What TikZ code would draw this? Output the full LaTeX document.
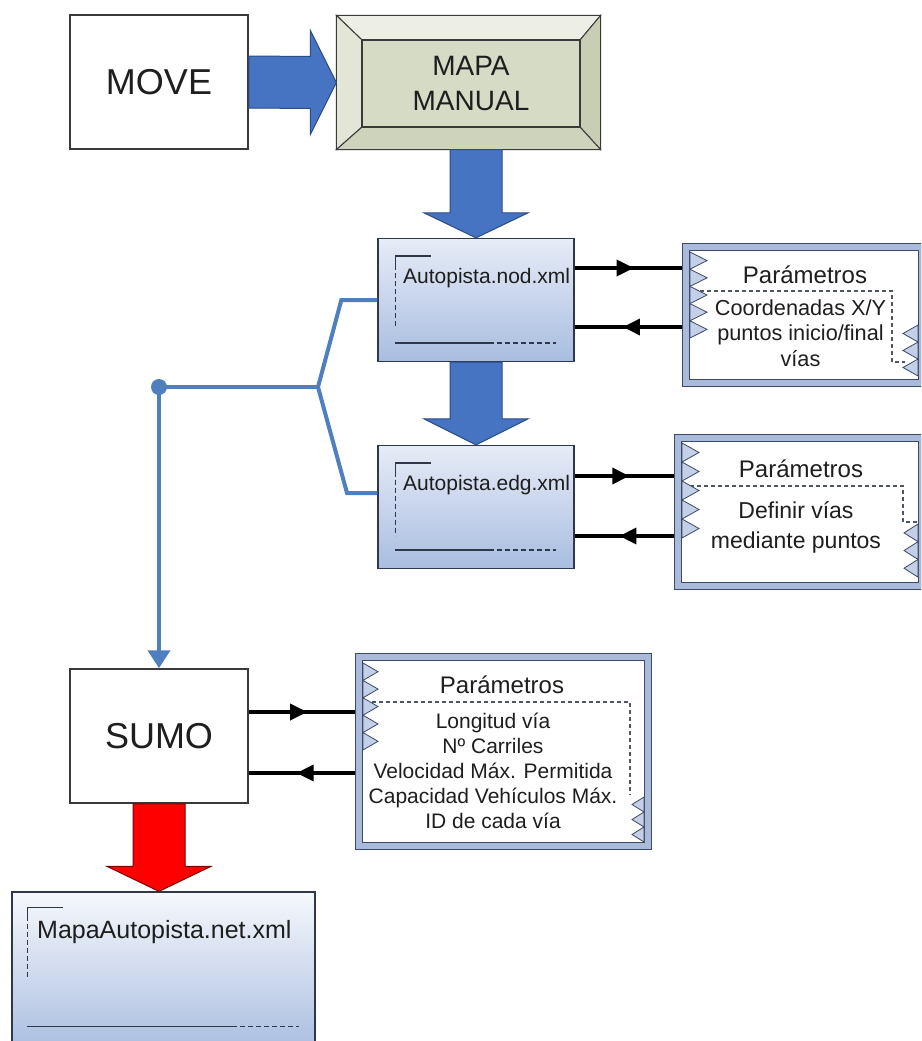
\documentclass[tikz,border=0pt]{standalone}
\usepackage{fontspec}
\setmainfont{Liberation Sans}
\usetikzlibrary{arrows.meta, calc, decorations.markings}

\definecolor{boxedge}{HTML}{3A3A3A}
\definecolor{arrowblue}{HTML}{4673C2}
\definecolor{arrowedge}{HTML}{2B4C86}
\definecolor{linkblue}{HTML}{4F7FBF}
\definecolor{docedge}{HTML}{2E3848}
\definecolor{doctop}{HTML}{E6ECF7}
\definecolor{docbot}{HTML}{A9BDE0}
\definecolor{nettop}{HTML}{F6F8FC}
\definecolor{frameblue}{HTML}{A9BADB}
\definecolor{frameedge}{HTML}{3C4A66}
\definecolor{toothblue}{HTML}{C3D0E8}
\definecolor{mapafill}{HTML}{D6DBC5}
\definecolor{bevtop}{HTML}{EEEFE4}
\definecolor{bevleft}{HTML}{E3E5D6}
\definecolor{bevright}{HTML}{C8CDB5}
\definecolor{bevbot}{HTML}{CED3BC}
\definecolor{textgrey}{HTML}{1E1E1E}

% corner marks of a document box: node, inset, dashed end, bottom line, solid end, dashed end
\newcommand{\docmarks}[6]{%
  \draw[docmark] ($(#1.north west)+(#2,#2+9)$) -- ($(#1.north west)+(#2,#2)$) -- ($(#1.north west)+(#2+36,#2)$);
  \draw[docmark, dash pattern=on 5pt off 3pt] ($(#1.north west)+(#2,#2+9)$) -- ($(#1.north west)+(#2,#3)$);
  \draw[docmark] ($(#1.north west)+(#2,#4)$) -- ($(#1.north west)+(#5,#4)$);
  \draw[docmark, dash pattern=on 5pt off 3pt] ($(#1.north west)+(#5,#4)$) -- ($(#1.north west)+(#6,#4)$);
}
% zigzag teeth: x, top y, depth, tooth height, count
\newcommand{\teeth}[5]{%
  \foreach \k in {1,...,#5}
    \filldraw[tooth] (#1,{#2+(\k-1)*#4}) -- ++({#3},{#4/2}) -- ++({-1*(#3)},{#4/2}) -- cycle;
}

\begin{document}
\begin{tikzpicture}[x=1pt, y=-1pt,
    plainbox/.style={draw=boxedge, line width=1.5pt, fill=white, minimum width=178pt, minimum height=134pt, text=textgrey, font=\fontsize{36}{43}\selectfont},
    mapaout/.style={draw=boxedge, line width=1.2pt, minimum width=263pt, minimum height=133pt},
    bevel/.style={draw=boxedge, line width=1pt},
    mapain/.style={draw=boxedge, line width=1.2pt, fill=mapafill, minimum width=218pt, minimum height=87pt, align=center, text=textgrey, font=\fontsize{28}{35}\selectfont},
    docbox/.style={draw=docedge, line width=1.3pt, top color=doctop, bottom color=docbot, minimum width=196pt, minimum height=123pt},
    netbox/.style={draw=docedge, line width=1.3pt, top color=nettop, bottom color=docbot, minimum width=303pt, minimum height=160pt},
    doclabel/.style={inner sep=0pt, anchor=base west, text=textgrey, font=\fontsize{21}{25}\selectfont},
    docmark/.style={draw=docedge, line width=1.7pt},
    parbox/.style={draw=frameedge, line width=1pt, double=frameblue, double distance=6pt, fill=white, outer sep=4pt},
    partitle/.style={inner sep=0pt, anchor=base, text=textgrey, font=\fontsize{24}{29}\selectfont},
    partext/.style={inner sep=0pt, anchor=north, align=center, text=textgrey},
    tooth/.style={draw=frameedge, line width=0.8pt, fill=toothblue},
    sep/.style={draw=docedge!85, line width=1.2pt, dash pattern=on 4pt off 3pt},
    bigarrow/.style={draw=arrowedge, line width=1pt, fill=arrowblue},
    redarrow/.style={draw=red!50!black, line width=1pt, fill=red},
    link/.style={draw=linkblue, line width=4pt},
    flow/.style={line width=3.5pt, postaction={decorate},
      decoration={markings, mark=at position 0.55 with {\arrow{Triangle[length=17pt,width=16pt]}}}}]

  \useasboundingbox (0,0) rectangle (921,1041);
  \clip (0,0) rectangle (921,1041);
  \fill[white] (0,0) rectangle (921,1041);

  % Nodes
  \node[plainbox] (move) at (159,82) {MOVE};

  \node[mapaout] (mapa) at (468.5,82.5) {};
  \coordinate (mi-nw) at (362,40);
  \coordinate (mi-ne) at (580,40);
  \coordinate (mi-se) at (580,127);
  \coordinate (mi-sw) at (362,127);
  \filldraw[bevel, fill=bevtop] (mapa.north west) -- (mapa.north east) -- (mi-ne) -- (mi-nw) -- cycle;
  \filldraw[bevel, fill=bevleft] (mapa.north west) -- (mi-nw) -- (mi-sw) -- (mapa.south west) -- cycle;
  \filldraw[bevel, fill=bevright] (mapa.north east) -- (mapa.south east) -- (mi-se) -- (mi-ne) -- cycle;
  \filldraw[bevel, fill=bevbot] (mapa.south west) -- (mi-sw) -- (mi-se) -- (mapa.south east) -- cycle;
  \node[mapain] (mapain) at (471,83.5) {MAPA\\MANUAL};

  \node[docbox] (nod) at (476,300) {};
  \node[doclabel] (nodlabel) at (403,283) {Autopista.nod.xml};
  \docmarks{nod}{18}{89}{105}{112}{179}

  \node[docbox] (edg) at (476,507) {};
  \node[doclabel] (edglabel) at (403,490) {Autopista.edg.xml};
  \docmarks{edg}{18}{91}{105}{112}{179}

  \node[parbox, minimum width=236pt, minimum height=136pt] (par1) at (804,315) {};
  \node[partitle] (par1title) at (805,283) {Parámetros};
  \node[partext, font=\fontsize{21.7}{25.5}\selectfont] (par1text) at (800.5,299.5) {Coordenadas X/Y\\puntos inicio/final\\vías};
  \draw[sep] (700,291) -- (892,291) -- (892,362) -- (905,362);
  \teeth{690}{252}{17}{17.2}{5}
  \teeth{918}{325}{-15}{17}{3}

  \node[parbox, minimum width=244pt, minimum height=148pt] (par2) at (800,512) {};
  \node[partitle] (par2title) at (801,477) {Parámetros};
  \node[partext, font=\fontsize{23}{30}\selectfont] (par2text) at (796,501) {Definir vías\\mediante puntos};
  \draw[sep] (683,486) -- (903,486) -- (903,522) -- (918,522);
  \teeth{682}{443}{17}{19}{5}
  \teeth{918}{524}{-14}{17.7}{3}

  \node[plainbox] (sumo) at (159,736) {SUMO};

  \node[parbox, minimum width=289pt, minimum height=189pt] (par3) at (503.5,751.5) {};
  \node[partitle] (par3title) at (502,693) {Parámetros};
  \node[partext, font=\fontsize{21}{25}\selectfont] (par3text) at (493,712.7) {Longitud vía\\Nº Carriles\\Velocidad Máx. Permitida\\Capacidad Vehículos Máx.\\ID de cada vía};
  \draw[sep] (365,702) -- (630,702) -- (630,795);
  \teeth{363}{663}{15}{17.4}{5}
  \teeth{644}{797}{-12}{15}{3}

  \node[netbox] (net) at (163.5,972) {};
  \node[doclabel, font=\fontsize{25}{30}\selectfont] (netlabel) at (37,938) {MapaAutopista.net.xml};
  \docmarks{net}{16}{88}{135}{221}{288}

  % Block arrows
  \filldraw[bigarrow] ($(move.east)+(0,-26)$) -- ($(mapa.west)+(-26,-26)$) -- ($(mapa.west)+(-26,-52)$) -- (mapa.west)
    -- ($(mapa.west)+(-26,52)$) -- ($(mapa.west)+(-26,26)$) -- ($(move.east)+(0,26)$) -- cycle;
  \filldraw[bigarrow] ($(nod.north |- mapa.south)+(-26,0)$) -- ($(nod.north)+(-26,-25)$) -- ($(nod.north)+(-52,-25)$) -- (nod.north)
    -- ($(nod.north)+(52,-25)$) -- ($(nod.north)+(26,-25)$) -- ($(nod.north |- mapa.south)+(26,0)$) -- cycle;
  \filldraw[bigarrow] ($(edg.north |- nod.south)+(-26,0)$) -- ($(edg.north)+(-26,-26)$) -- ($(edg.north)+(-52,-26)$) -- (edg.north)
    -- ($(edg.north)+(52,-26)$) -- ($(edg.north)+(26,-26)$) -- ($(edg.north |- nod.south)+(26,0)$) -- cycle;
  \filldraw[redarrow] ($(sumo.south)+(-26,0)$) -- ($(sumo.south |- net.north)+(-26,-25)$) -- ($(sumo.south |- net.north)+(-52,-25)$) -- (sumo.south |- net.north)
    -- ($(sumo.south |- net.north)+(52,-25)$) -- ($(sumo.south |- net.north)+(26,-25)$) -- ($(sumo.south)+(26,0)$) -- cycle;

  % Links
  \coordinate (fork) at (318,387);
  \coordinate (dot) at (159,387);
  \draw[link] (nod.west) -- ++(-36,0) -- (fork) -- ++(29,106) -- ($(edg.west)+(0,-14)$);
  \draw[link] (fork) -- (dot);
  \draw[link, -{Triangle[length=18pt,width=22pt]}] (dot) -- (sumo.north);
  \fill[linkblue] (dot) circle (8pt);

  % Arrows
  \draw[flow] ($(nod.east)+(0,-32)$) -- ($(nod.east -| par1.west)+(0,-32)$);
  \draw[flow] ($(nod.east -| par1.west)+(0,27)$) -- ($(nod.east)+(0,27)$);
  \draw[flow] ($(edg.east)+(0,-31)$) -- ($(edg.east -| par2.west)+(0,-31)$);
  \draw[flow] ($(edg.east -| par2.west)+(0,29)$) -- ($(edg.east)+(0,29)$);
  \draw[flow] ($(sumo.east)+(0,-24)$) -- ($(sumo.east -| par3.west)+(0,-24)$);
  \draw[flow] ($(sumo.east -| par3.west)+(0,37)$) -- ($(sumo.east)+(0,37)$);
\end{tikzpicture}
\end{document}
